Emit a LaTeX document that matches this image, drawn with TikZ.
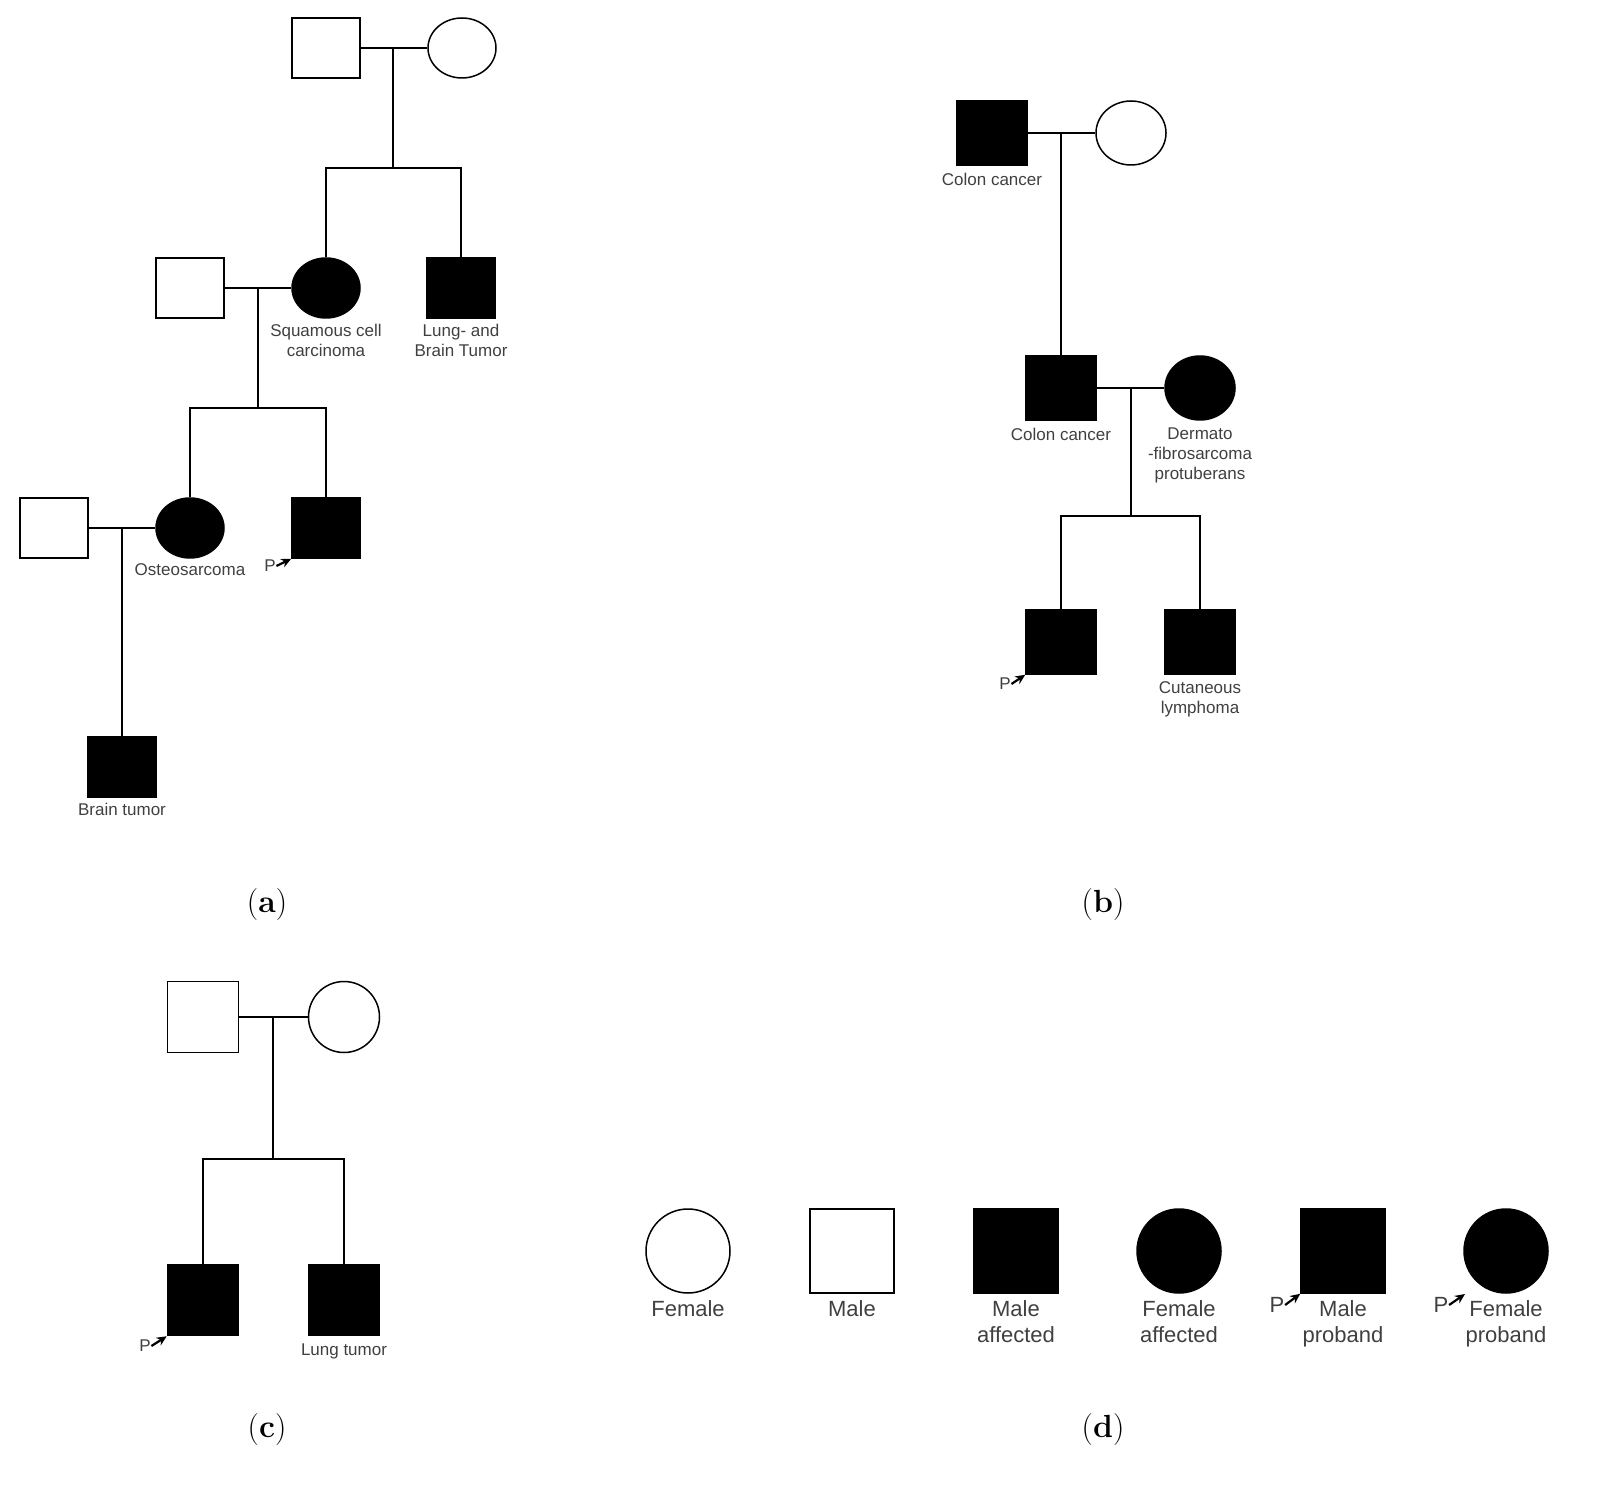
\documentclass[tikz,border=0pt]{standalone}
\usepackage{fontspec}
\setmainfont{Liberation Sans}
\newfontfamily\capfont{Latin Modern Roman}
\usetikzlibrary{shapes.geometric,arrows.meta}
\begin{document}
\begin{tikzpicture}[x=0.5pt,y=-0.5pt,line width=0.75pt,
 m/.style={draw,rectangle,inner sep=0pt},
 f/.style={draw,ellipse,inner sep=0pt},
 sa/.style={minimum width=34pt,minimum height=30pt},
 sb/.style={minimum width=35pt,minimum height=32pt},
 sc/.style={minimum width=35.5pt,minimum height=35.5pt},
 sd/.style={minimum width=42pt,minimum height=42pt},
 aff/.style={fill=black},
 lab/.style={font=\fontsize{8.5}{10}\selectfont,text=black!75,align=center,inner sep=0pt},
 labd/.style={font=\fontsize{11}{13}\selectfont,text=black!75,align=center,inner sep=0pt},
 capt/.style={font=\capfont\fontsize{16}{18}\selectfont},
 parr/.style={-{Stealth[length=5pt,width=4.5pt]},line width=1.1pt}]
\useasboundingbox (0,0) rectangle (1600,1491);
% ---------- (a)
\node[m,sa] (a1) at (326,48) {};
\node[f,sa] (a2) at (462,48) {};
\draw (a1.east) -- (a2.west);
\coordinate (a12) at (393,48); \coordinate (a12s) at (393,168);
\node[m,sa] (a3) at (190,288) {};
\node[f,sa,aff] (a4) at (326,288) {};
\node[m,sa,aff] (a5) at (461,288) {};
\draw (a12) -- (a12s);
\draw (a4.north) |- (a12s) -| (a5.north);
\draw (a3.east) -- (a4.west);
\node[lab,anchor=north] at (326,323) {Squamous cell\\carcinoma};
\node[lab,anchor=north] at (461,323) {Lung- and\\Brain Tumor};
\coordinate (a34) at (258,288); \coordinate (a34s) at (258,408);
\node[m,sa] (a6) at (54,528) {};
\node[f,sa,aff] (a7) at (190,528) {};
\node[m,sa,aff] (a8) at (326,528) {};
\draw (a34) -- (a34s);
\draw (a7.north) |- (a34s) -| (a8.north);
\draw (a6.east) -- (a7.west);
\node[lab,anchor=north] at (190,563) {Osteosarcoma};
\node[lab] (pa) at (270,566) {P};
\draw[parr] (pa.east) -- (a8.south west);
\coordinate (a67) at (122,528);
\node[m,sa,aff] (a9) at (122,767) {};
\draw (a67) -- (a9.north);
\node[lab,anchor=north] at (122,802) {Brain tumor};
\node[capt] at (267,905) {(\textbf{a})};
% ---------- (b)
\node[m,sb,aff] (b1) at (992,133) {};
\node[f,sb] (b2) at (1131,133) {};
\draw (b1.east) -- (b2.west);
\node[lab,anchor=north] at (992,172) {Colon cancer};
\coordinate (b12) at (1061,133);
\node[m,sb,aff] (b3) at (1061,388) {};
\node[f,sb,aff] (b4) at (1200,388) {};
\draw (b12) -- (b3.north);
\draw (b3.east) -- (b4.west);
\node[lab,anchor=north] at (1061,427) {Colon cancer};
\node[lab,anchor=north] at (1200,427) {Dermato\\-fibrosarcoma\\protuberans};
\coordinate (b34) at (1131,388); \coordinate (b34s) at (1131,516);
\node[m,sb,aff] (b5) at (1061,642) {};
\node[m,sb,aff] (b6) at (1200,642) {};
\draw (b34) -- (b34s);
\draw (b5.north) |- (b34s) -| (b6.north);
\node[lab] (pb) at (1005,684) {P};
\draw[parr] (pb.east) -- (b5.south west);
\node[lab,anchor=north] at (1200,681) {Cutaneous\\lymphoma};
\node[capt] at (1103,905) {(\textbf{b})};
% ---------- (c)
\node[m,sc] (c1) at (203,1017) {};
\node[f,sc] (c2) at (344,1017) {};
\draw (c1.east) -- (c2.west);
\coordinate (c12) at (273,1017); \coordinate (c12s) at (273,1159);
\node[m,sc,aff] (c3) at (203,1300) {};
\node[m,sc,aff] (c4) at (344,1300) {};
\draw (c12) -- (c12s);
\draw (c3.north) |- (c12s) -| (c4.north);
\node[lab] (pc) at (145,1346) {P};
\draw[parr] (pc.east) -- (c3.south west);
\node[lab,anchor=north] at (344,1343) {Lung tumor};
\node[capt] at (267,1430) {(\textbf{c})};
% ---------- (d)
\node[f,sd] (d1) at (688,1251) {};
\node[m,sd] (d2) at (852,1251) {};
\node[m,sd,aff] (d3) at (1016,1251) {};
\node[f,sd,aff] (d4) at (1179,1251) {};
\node[m,sd,aff] (d5) at (1343,1251) {};
\node[f,sd,aff] (d6) at (1506,1251) {};
\node[labd,anchor=north] at (688,1300) {Female};
\node[labd,anchor=north] at (852,1300) {Male};
\node[labd,anchor=north] at (1016,1300) {Male\\affected};
\node[labd,anchor=north] at (1179,1300) {Female\\affected};
\node[labd,anchor=north] at (1343,1300) {Male\\proband};
\node[labd,anchor=north] at (1506,1300) {Female\\proband};
\node[labd] (pd5) at (1277,1305) {P};
\draw[parr] (pd5.east) -- (d5.south west);
\node[labd] (pd6) at (1441,1305) {P};
\coordinate (d6c) at (1465,1294);
\draw[parr] (pd6.east) -- (d6c);
\node[capt] at (1103,1430) {(\textbf{d})};
\end{tikzpicture}
\end{document}
